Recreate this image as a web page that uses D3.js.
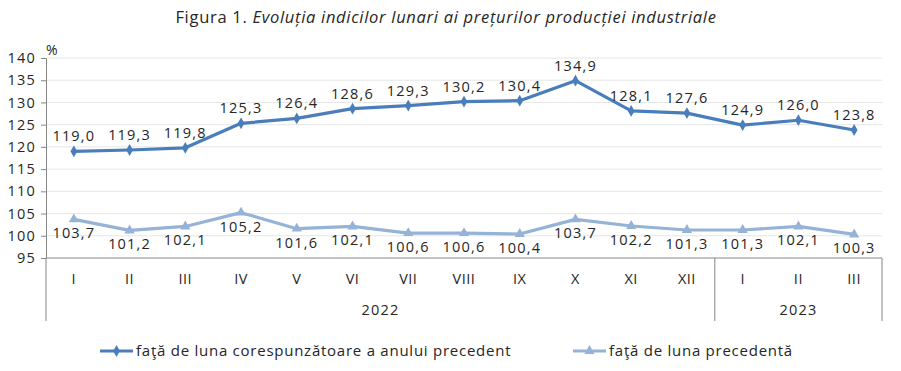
<!DOCTYPE html>
<html><head><meta charset="utf-8">
<script src="https://cdn.jsdelivr.net/npm/d3@7"></script>
<style>body{margin:0;background:#fff;} text{font-family:"Open Sans",Lato,sans-serif;}</style>
</head><body>
<svg id="c" width="901" height="371"></svg>
<script>
const months = ["I","II","III","IV","V","VI","VII","VIII","IX","X","XI","XII","I","II","III"];
const years = [{label:"2022", from:0, to:12},{label:"2023", from:12, to:15}];
const seriesYoY = [119.0,119.3,119.8,125.3,126.4,128.6,129.3,130.2,130.4,134.9,128.1,127.6,124.9,126.0,123.8];
const seriesMoM = [103.7,101.2,102.1,105.2,101.6,102.1,100.6,100.6,100.4,103.7,102.2,101.3,101.3,102.1,100.3];
const yTicks = [95,100,105,110,115,120,125,130,135,140];
const names = ["faţă de luna corespunzătoare a anului precedent","faţă de luna precedentă"];
const colors = ["#4A7EBB","#95B3D7"];

const svg = d3.select("#c");
const L=46, R=882, T=58, B=258;
const x = d3.scaleBand().domain(d3.range(months.length)).range([L,R]);
const y = d3.scaleLinear().domain([95,140]).range([B,T]);
const fmt = v => v.toFixed(1).replace(".",",");
const TXT = "#262626";

// title
const title = svg.append("text").attr("x",446).attr("y",23).attr("text-anchor","middle")
  .attr("font-size",16.5).attr("letter-spacing",0.7).attr("fill",TXT);
title.append("tspan").text("Figura 1. ");
title.append("tspan").attr("font-style","italic").text("Evoluția indicilor lunari ai prețurilor producției industriale");

// grid
svg.append("g").selectAll("line").data(yTicks.filter(d=>d>95)).join("line")
  .attr("x1",L).attr("x2",R).attr("y1",d=>y(d)).attr("y2",d=>y(d))
  .attr("stroke","#e6e6e6").attr("stroke-width",1);

// y axis
const ya = svg.append("g").attr("transform",`translate(${L},0)`)
  .call(d3.axisLeft(y).tickValues(yTicks).tickSize(5).tickPadding(5).tickFormat(d=>d));
ya.select(".domain").attr("stroke","#868686");
ya.selectAll(".tick line").attr("stroke","#868686");
ya.selectAll("text").attr("font-size",14.5).attr("fill",TXT).attr("letter-spacing",1.2)
  .style("font-family","'Open Sans',sans-serif");
svg.append("text").attr("x",46).attr("y",55).attr("font-size",14).attr("fill",TXT).text("%");

// category axis
svg.append("line").attr("x1",L).attr("x2",R).attr("y1",B).attr("y2",B).attr("stroke","#868686");
svg.append("line").attr("x1",L).attr("x2",L).attr("y1",B).attr("y2",321).attr("stroke","#868686");
years.forEach(yr=>{
  const xe = yr.to>=months.length ? R : x(yr.to);
  svg.append("line").attr("x1",xe).attr("x2",xe).attr("y1",B).attr("y2",321).attr("stroke","#868686");
  const xs = x(yr.from);
  svg.append("text").attr("x",(xs+xe)/2).attr("y",315).attr("text-anchor","middle")
    .attr("font-size",14.5).attr("letter-spacing",1.2).attr("fill",TXT).text(yr.label);
});
svg.append("g").selectAll("text").data(months).join("text")
  .attr("x",(d,i)=>x(i)+x.bandwidth()/2).attr("y",284).attr("text-anchor","middle")
  .attr("font-size",14.5).attr("letter-spacing",0.5).attr("fill",TXT).text(d=>d);

const cx = i => x(i)+x.bandwidth()/2;
const line = d3.line().x((d,i)=>cx(i)).y(d=>y(d));
const diamond = d3.symbol().type(d3.symbolDiamond).size(40);
const tri = d3.symbol().type(d3.symbolTriangle).size(45);

[seriesYoY, seriesMoM].forEach((s,k)=>{
  svg.append("path").datum(s).attr("d",line).attr("fill","none")
    .attr("stroke",colors[k]).attr("stroke-width",3.2).attr("stroke-linejoin","round");
  svg.append("g").selectAll("path").data(s).join("path")
    .attr("transform",(d,i)=>`translate(${cx(i)},${y(d)})`)
    .attr("d",k===0?diamond:tri).attr("fill",colors[k]);
  svg.append("g").selectAll("text").data(s).join("text")
    .attr("x",(d,i)=>cx(i)).attr("y",d=>k===0? y(d)-10 : y(d)+19)
    .attr("text-anchor","middle").attr("font-size",14.5).attr("letter-spacing",1.2)
    .attr("fill",TXT).text(fmt);
});

// legend
const legX = [100, 573];
[0,1].forEach(k=>{
  const g = svg.append("g").attr("transform",`translate(${legX[k]},351)`);
  g.append("line").attr("x1",0).attr("x2",33).attr("stroke",colors[k]).attr("stroke-width",3.2);
  g.append("path").attr("transform","translate(16.5,0)").attr("d",k===0?diamond:tri).attr("fill",colors[k]);
  g.append("text").attr("x",36).attr("y",5).attr("font-size",15).attr("letter-spacing",0.75).attr("fill",TXT).text(names[k]);
});
</script>
</body></html>
